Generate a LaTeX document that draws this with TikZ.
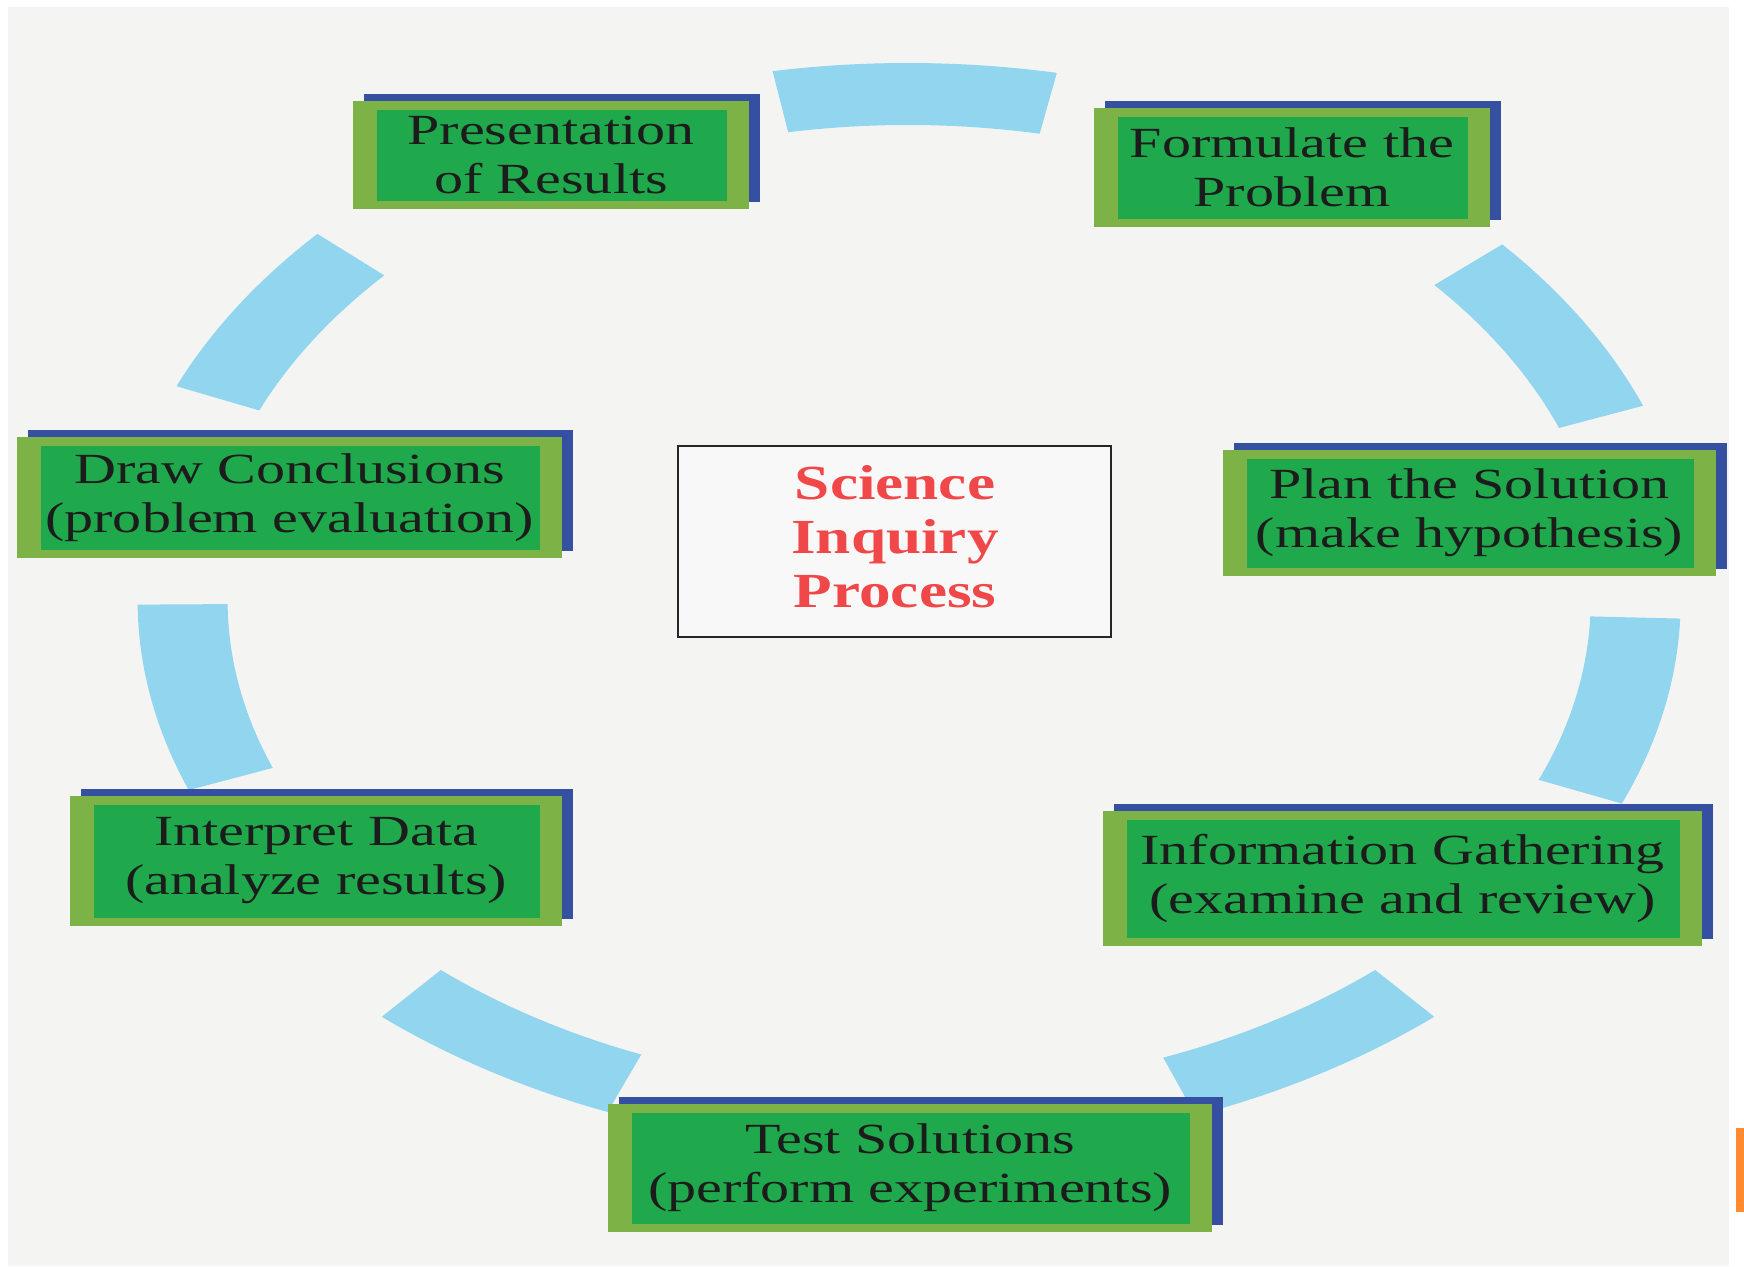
\documentclass[tikz,border=0pt]{standalone}
\usepackage{fontspec}
\setmainfont{Liberation Serif}[FakeStretch=1.35]
\newfontfamily\titlefont{Liberation Serif}[FakeStretch=1.29]
\definecolor{pagebg}{HTML}{F4F4F3}
\definecolor{ringblue}{HTML}{92D5EE}
\definecolor{boxolive}{HTML}{7DB247}
\definecolor{boxgreen}{HTML}{1FA84C}
\definecolor{shadowblue}{HTML}{3550A0}
\definecolor{titlered}{HTML}{F04848}
\definecolor{textdark}{HTML}{1C1C1C}
\definecolor{markorange}{HTML}{FF8A30}
\tikzset{
  boxtext/.style={text=textdark, align=center, inner sep=0pt,
    font=\fontsize{43}{49}\selectfont},
  titletext/.style={text=titlered, align=center, inner sep=0pt,
    font=\titlefont\bfseries\fontsize{49}{54}\selectfont},
  centerframe/.style={draw=black!85, line width=1.6pt, fill=pagebg!60!white}
}
\newcommand\ringseg[3]{%
  \fill[ringblue] ({908+(735*#3+45)*cos(#1)},{600+(506*#3+31)*sin(#1)})
    arc[start angle=#1,end angle=#2,x radius={735*#3+45},y radius={506*#3+31}]
    -- ({908+(735*#3-45)*cos(#2)},{600+(506*#3-31)*sin(#2)})
    arc[start angle=#2,end angle=#1,x radius={735*#3-45},y radius={506*#3-31}]
    -- cycle;}
\newcommand\procbox[6]{%
  \fill[shadowblue] (#2+11,#3-7) rectangle (#4+11,#5-7);
  \fill[boxolive] (#2,#3) rectangle (#4,#5);
  \fill[boxgreen] (#2+24,#3+9) rectangle (#4-22,#5-8);
  \node[boxtext] (#1) at ({(#2+#4)/2},{(#3+#5)/2}) {#6};}
\begin{document}
\begin{tikzpicture}[x=1pt,y=-1pt]
\useasboundingbox (0,0) rectangle (1744,1266);
\fill[white] (0,0) rectangle (1744,1266);
\fill[pagebg] (8,7) rectangle (1729,1266);
% ring segments
\ringseg{-100}{-79}{1.0}
\ringseg{-41}{-21}{1.01}
\ringseg{2}{22.5}{0.99}
\ringseg{49}{69}{1.03}
\ringseg{112}{131}{1.03}
\ringseg{159}{179.5}{0.987}
\ringseg{203}{222}{1.02}
% process boxes
\procbox{present}{353}{101}{749}{209}{Presentation\\of Results}
\procbox{formulate}{1094}{108}{1490}{227}{Formulate the\\Problem}
\procbox{plan}{1223}{450}{1716}{576}{Plan the Solution\\(make hypothesis)}
\procbox{info}{1103}{811}{1702}{946}{Information Gathering\\(examine and review)}
\procbox{test}{608}{1104}{1212}{1232}{Test Solutions\\(perform experiments)}
\procbox{interpret}{70}{796}{562}{926}{Interpret Data\\(analyze results)}
\procbox{conclude}{17}{437}{562}{558}{Draw Conclusions\\(problem evaluation)}
% centre
\draw[centerframe] (678,446) rectangle (1111,637);
\node[titletext] (centre) at (895,537) {Science\\Inquiry\\Process};
% slide marker
\fill[markorange] (1736,1128) rectangle (1744,1212);
\end{tikzpicture}
\end{document}
